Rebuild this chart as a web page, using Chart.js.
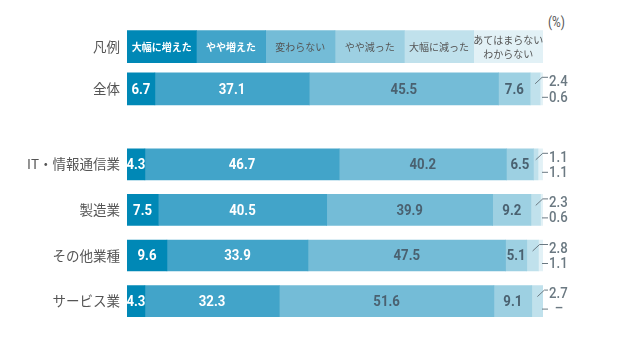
<!doctype html>
<html lang="ja">
  <head>
    <meta charset="UTF-8" />
    <title>業績の変化</title>
    <style>
      body {
        margin: 0;
        width: 640px;
        height: 339px;
        background: #fff;
        position: relative;
        overflow: hidden;
        font-family: "Noto Sans CJK JP", sans-serif;
      }
      .grafico {
        position: absolute;
        left: 0;
      }
      .unidade {
        position: absolute;
        left: 548px;
        top: 13px;
        line-height: 18px;
        font-family: Roboto, sans-serif;
        font-size: 14px;
        color: #555;
        transform: scaleX(0.85);
        transform-origin: left center;
      }
    </style>
  </head>
  <body>
    <div class="unidade">(%)</div>
    <canvas id="chartTopo" class="grafico" width="640" height="125" style="top: 0"></canvas>
    <canvas id="chartSetores" class="grafico" width="640" height="214" style="top: 125px"></canvas>

    <script src="https://cdn.jsdelivr.net/npm/chart.js"></script>
    <script>
      // Categorias de resposta (legenda)
      var respostas = ["大幅に増えた", "やや増えた", "変わらない", "やや減った", "大幅に減った", "あてはまらない\nわからない"];
      var cores = ["#0088b6", "#42a4c9", "#74bcd7", "#9dd0e2", "#c0e1ec", "#e2f1f6"];

      // Linha geral
      var rotuloTotal = "全体";
      var valoresTotal = [6.7, 37.1, 45.5, 7.6, 2.4, 0.6];

      // Setores
      var setores = ["IT・情報通信業", "製造業", "その他業種", "サービス業"];
      var muitoMais = [4.3, 7.5, 9.6, 4.3];
      var poucoMais = [46.7, 40.5, 33.9, 32.3];
      var igual = [40.2, 39.9, 47.5, 51.6];
      var poucoMenos = [6.5, 9.2, 5.1, 9.1];
      var muitoMenos = [1.1, 2.3, 2.8, 2.7];
      var naoSabe = [1.1, 0.6, 1.1, null];

      var porSetor = [muitoMais, poucoMais, igual, poucoMenos, muitoMenos, naoSabe];
      var fatiaLegenda = 100 / respostas.length;

      var corTextoEscuro = "#4a6170";
      var corTextoFora = "#6b7982";
      var fonteNumero = '700 15px Roboto, sans-serif';

      function formatar(v) {
        return v === null || v === undefined ? "–" : v.toFixed(1);
      }

      // Escreve texto com a fonte "condensada" (escala horizontal)
      function textoEstreito(ctx, txt, x, y, align) {
        ctx.save();
        ctx.translate(x, y);
        ctx.scale(0.88, 1);
        ctx.textAlign = align;
        ctx.textBaseline = "middle";
        ctx.fillText(txt, 0, 0);
        ctx.restore();
      }

      // Plugin que desenha os rótulos das barras
      var rotulos = {
        id: "rotulos",
        afterDatasetsDraw: function (chart) {
          var ctx = chart.ctx;
          var temLegenda = chart.options.temLegenda;
          var n = chart.data.labels.length;
          for (var j = 0; j < n; j++) {
            var ehLegenda = temLegenda && j === 0;
            for (var i = 0; i < chart.data.datasets.length; i++) {
              var el = chart.getDatasetMeta(i).data[j];
              var v = chart.data.datasets[i].data[j];
              var cx = (el.x + el.base) / 2;
              var cy = el.y;
              var topo = el.y - el.height / 2;
              var baixo = el.y + el.height / 2;
              ctx.save();
              if (ehLegenda) {
                var linhas = respostas[i].split("\n");
                ctx.font = (i < 2 ? "700 " : "400 ") + "10px 'Noto Sans CJK JP', sans-serif";
                ctx.fillStyle = i < 2 ? "#ffffff" : "#555";
                ctx.textAlign = "center";
                ctx.textBaseline = "middle";
                for (var k = 0; k < linhas.length; k++) {
                  ctx.fillText(linhas[k], cx, cy + 1 + (k - (linhas.length - 1) / 2) * 14);
                }
              } else if (i < 4) {
                ctx.font = fonteNumero;
                ctx.fillStyle = i < 2 ? "#ffffff" : corTextoEscuro;
                textoEstreito(ctx, formatar(v), cx, cy + 1, "center");
              } else {
                // valores pequenos fora da barra, com linha guia
                ctx.strokeStyle = corTextoFora;
                ctx.fillStyle = corTextoFora;
                ctx.lineWidth = 1;
                ctx.font = '500 15px Roboto, sans-serif';
                var xTexto = chart.chartArea.right + 6;
                if (i === 4) {
                  var yLinha = topo + 4.5;
                  ctx.beginPath();
                  ctx.moveTo(cx, topo + 11);
                  ctx.lineTo(cx + 7, yLinha);
                  ctx.lineTo(xTexto - 1, yLinha);
                  ctx.stroke();
                  textoEstreito(ctx, formatar(v), xTexto, topo + 9, "left");
                } else {
                  var yBaixo = baixo - 8;
                  ctx.beginPath();
                  ctx.moveTo(chart.chartArea.right - 1, yBaixo + 0.5);
                  ctx.lineTo(xTexto - 1, yBaixo + 0.5);
                  ctx.stroke();
                  if (v === null) {
                    // sem resposta: traço centrado
                    textoEstreito(ctx, formatar(v), xTexto + 10, yBaixo + 1, "center");
                  } else {
                    textoEstreito(ctx, formatar(v), xTexto, yBaixo + 1, "left");
                  }
                }
              }
              ctx.restore();
            }
          }
        }
      };

      function opcoes(padTopo, padBaixo, temLegenda) {
        return {
          indexAxis: "y",
          responsive: false,
          animation: false,
          temLegenda: temLegenda,
          layout: { padding: { top: padTopo, bottom: padBaixo, left: 0, right: 97 } },
          plugins: { legend: { display: false }, tooltip: { enabled: false } },
          scales: {
            x: { stacked: true, min: 0, max: 100, display: false },
            y: {
              stacked: true,
              grid: { display: false, drawTicks: false },
              border: { display: false },
              ticks: {
                color: "#555",
                padding: 7,
                font: { family: "'Noto Sans CJK JP', sans-serif", size: 13.5 }
              },
              afterFit: function (scale) {
                scale.width = 127;
              }
            }
          }
        };
      }

      // Gráfico de cima: legenda + total
      var dsTopo = cores.map(function (c, i) {
        return {
          data: [fatiaLegenda, valoresTotal[i]],
          backgroundColor: c,
          barThickness: 32,
          borderWidth: 0
        };
      });
      new Chart(document.getElementById("chartTopo"), {
        type: "bar",
        data: { labels: ["凡例", rotuloTotal], datasets: dsTopo },
        options: opcoes(25.5, 5.5, true),
        plugins: [rotulos]
      });

      // Gráfico dos setores
      var dsSetores = cores.map(function (c, i) {
        return {
          data: porSetor[i],
          backgroundColor: c,
          barThickness: 31,
          borderWidth: 0
        };
      });
      new Chart(document.getElementById("chartSetores"), {
        type: "bar",
        data: { labels: setores, datasets: dsSetores },
        options: opcoes(16.5, 9.5, false),
        plugins: [rotulos]
      });
    </script>
  </body>
</html>
